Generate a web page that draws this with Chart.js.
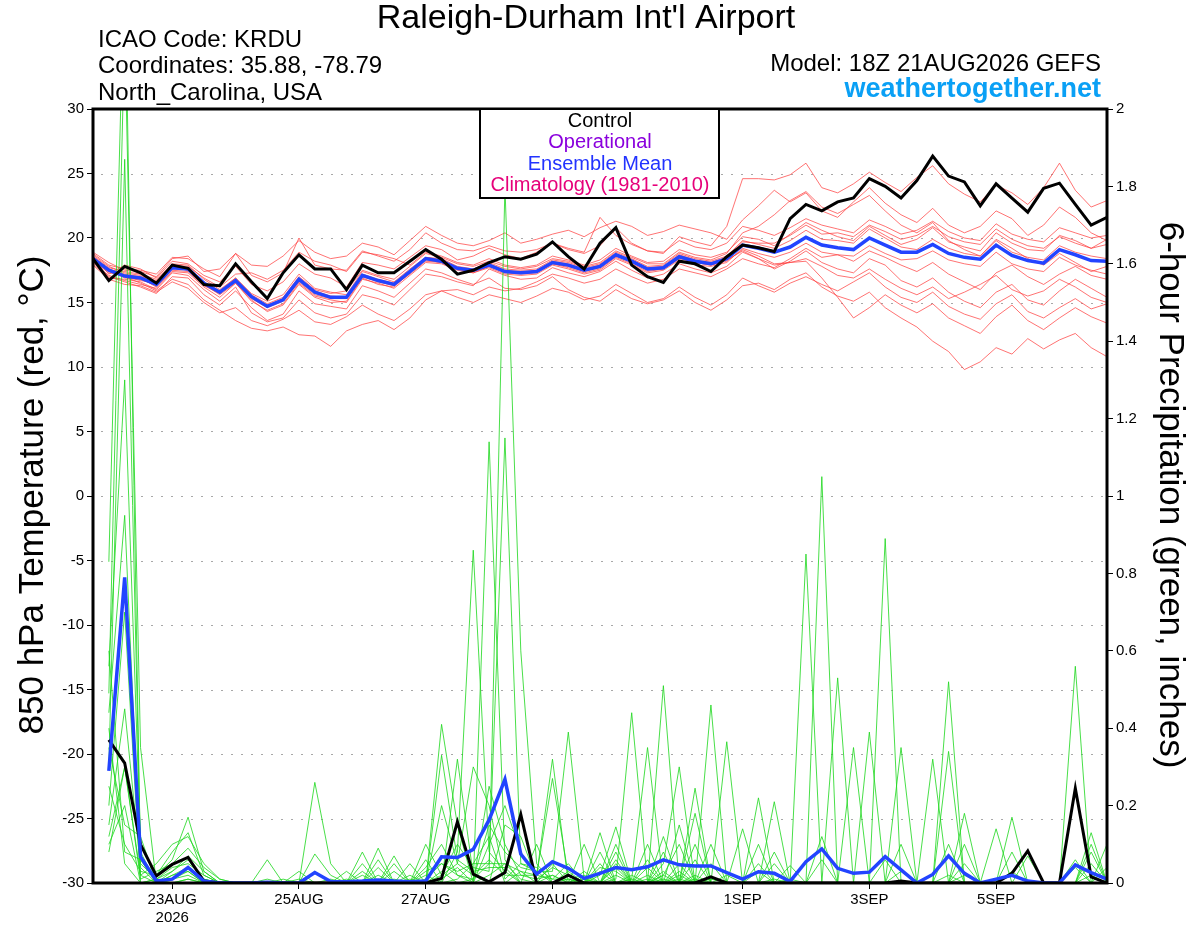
<!DOCTYPE html>
<html>
<head>
<meta charset="utf-8">
<title>Raleigh-Durham Int'l Airport - GEFS meteogram</title>
<script src="https://cdn.jsdelivr.net/npm/chart.js@4.4.1/dist/chart.umd.min.js"></script>
<style>
  html, body { margin: 0; padding: 0; background: #fff; }
  canvas { display: block; }
</style>
</head>
<body>
<canvas id="meteogram" width="1200" height="927"></canvas>
<script>
// forecast steps: 18Z 21AUG2026 + 0..384 h, every 6 h
const stepCount = 65;
const forecastHours = Array.from({ length: stepCount }, (_, i) => i * 6);
const dayTickHours = [30, 78, 126, 174, 246, 294, 342];
const dayTickLabels = ['23AUG', '25AUG', '27AUG', '29AUG', '1SEP', '3SEP', '5SEP'];
const yearLabel = '2026';

// 850 hPa temperature (deg C)
const controlTemp = [18.4,16.7,17.8,17.3,16.5, 17.9,17.65,16.4,16.3,18.0, 16.6,15.3,17.3,18.7,17.6, 17.6,16.0,17.9,17.3,17.3, 18.2,19.1,18.35,17.2,17.5, 18.1,18.55,18.35,18.75,19.7, 18.55,17.6,19.6,20.8,17.9, 17.0,16.55,18.2,18.0,17.4, 18.55,19.45,19.25,18.95,21.5, 22.6,22.1,22.8,23.1,24.6, 24.0,23.1,24.45,26.35,24.8, 24.35,22.5,24.2,23.1,22.0, 23.85,24.25,22.6,21.0,21.6];
const meanTemp = [18.4,17.5,17.05,16.9,16.4, 17.7,17.6,16.5,15.8,16.7, 15.45,14.7,15.2,16.8,15.8, 15.4,15.4,17.1,16.7,16.4, 17.4,18.4,18.2,17.65,17.5, 17.9,17.4,17.3,17.4,18.1, 17.9,17.5,17.8,18.7,18.2, 17.6,17.7,18.55,18.2,18.0, 18.4,19.45,19.2,18.9,19.3, 20.05,19.45,19.25,19.1,20.0, 19.45,18.9,18.9,19.5,18.8, 18.5,18.35,19.45,18.65,18.25, 18.05,19.1,18.7,18.25,18.2];

// 6-hour precipitation (inches), no value at hour 0
const controlPrecip = [null,0.37,0.31,0.10,0.018, 0.048,0.066,0.005,0,0, 0,0,0,0,0, 0,0,0,0,0, 0,0,0.012,0.158,0.023, 0.003,0.027,0.177,0,0, 0.02,0,0,0,0, 0,0,0,0,0.016, 0,0,0,0,0, 0,0,0,0,0, 0,0.005,0,0,0, 0,0,0,0.025,0.083, 0,0,0.245,0.016,0];
const meanPrecip = [null,0.29,0.79,0.068,0.005, 0.01,0.04,0.005,0,0, 0,0.002,0,0,0.027, 0.004,0.003,0.005,0.008,0.005, 0.003,0.005,0.068,0.066,0.087, 0.163,0.268,0.075,0.023,0.055, 0.038,0.012,0.025,0.04,0.034, 0.042,0.06,0.047,0.044,0.044, 0.027,0.01,0.029,0.025,0.004, 0.055,0.088,0.038,0.025,0.028, 0.068,0.034,0,0.022,0.07, 0.025,0,0.01,0.02,0.005, 0,0,0.047,0.027,0.01];

// ensemble members, temperature
const memberTemps = [
  [18.6,17.2,17.9,17.6,16.9, 18.2,18.0,17.1,16.6,17.8, 16.4,15.9,16.6,18.0,17.2, 16.9,16.2,18.1,17.9,17.6, 18.5,19.4,19.1,18.3,18.6, 19.2,18.7,18.4,18.9,19.6, 19.1,18.8,19.4,20.8,19.6, 19.0,18.8,20.1,19.7,19.4, 20.9,24.6,24.6,24.5,24.9, 25.8,23.9,23.5,24.2,25.1, 24.3,23.6,24.7,25.6,24.2, 23.4,22.8,24.1,23.5,22.6, 23.9,25.8,23.7,22.4,22.9],
  [18.2,17.0,16.6,16.2,15.7, 17.0,16.9,15.6,14.8,15.9, 14.6,13.6,14.1,15.9,14.9, 14.7,14.5,16.3,15.9,15.4, 16.5,17.6,17.3,16.8,16.4, 16.9,16.1,16.0,16.3,17.0, 16.0,15.4,15.1,16.0,15.3, 14.9,15.2,15.9,15.0,14.4, 15.2,16.3,16.5,16.0,16.8, 17.3,16.2,15.5,15.1,15.8, 14.6,13.8,13.1,12.0,11.2, 9.8,10.4,11.5,11.0,12.2, 11.4,12.1,12.6,11.5,10.8],
  [18.9,18.1,17.5,17.4,17.0, 18.4,18.6,17.4,17.6,18.8, 17.9,17.8,18.6,19.8,18.9, 18.4,18.6,19.6,19.3,18.7, 19.8,20.9,20.2,19.6,19.4, 19.8,20.4,19.6,19.9,20.3, 20.6,20.1,20.8,21.3,20.9, 20.2,20.5,21.0,20.7,20.4, 19.9,21.4,22.5,23.7,22.8, 23.5,22.1,21.6,22.8,23.9, 22.7,21.8,21.2,22.3,21.0, 20.4,20.9,22.1,21.5,20.2, 21.0,22.4,21.6,20.4,19.8],
  [18.0,16.9,16.8,16.6,16.0, 17.3,17.1,16.0,15.1,16.2, 14.2,13.5,13.8,15.2,14.2, 13.8,14.1,15.6,15.3,14.8, 16.0,17.2,17.0,16.6,16.3, 17.6,17.1,16.8,16.9,17.7, 17.3,17.0,17.4,18.2,17.5, 16.9,17.2,18.0,17.6,17.3, 17.8,18.9,18.4,17.6,18.2, 19.0,18.1,17.6,17.3,18.4, 17.9,16.7,16.2,16.9,15.8, 15.1,14.6,15.8,16.4,15.2, 14.8,15.9,16.8,16.1,15.4],
  [18.3,17.4,17.0,16.5,15.9, 16.8,16.4,15.2,14.4,13.6, 13.0,12.8,13.1,12.5,12.4, 11.6,12.8,13.3,13.6,12.9, 13.8,15.2,15.9,16.0,15.6, 16.2,15.9,16.1,16.6,17.2, 16.9,16.5,16.8,17.6,17.0, 16.5,16.8,17.6,17.3,17.0, 17.6,18.4,18.0,17.7,18.4, 19.2,18.5,18.7,18.2,19.0, 18.5,17.9,17.4,18.1,17.2, 16.6,16.0,17.3,17.9,17.0, 16.4,17.2,17.8,17.1,16.8],
  [18.7,17.8,17.3,17.1,16.6, 17.9,17.8,16.9,16.2,17.2, 17.3,16.8,17.5,18.9,18.2, 17.9,17.4,18.9,18.7,18.4, 17.9,18.9,18.6,18.1,17.9, 18.4,17.9,17.7,17.9,18.6, 18.3,17.9,18.3,19.2,18.6, 18.1,18.2,19.1,18.7,18.5, 18.9,20.1,19.9,19.4,20.3, 21.2,20.6,20.1,19.8,20.9, 20.2,19.5,19.9,20.8,19.7, 19.3,19.0,20.4,19.6,19.1, 19.0,20.2,19.8,19.2,19.5],
  [17.9,16.8,16.4,16.3,15.8, 16.6,16.1,15.0,14.2,14.6, 13.6,13.2,13.7,14.4,13.5, 13.3,13.9,14.8,14.1,13.6, 14.5,15.6,15.9,15.4,15.0, 15.6,15.3,15.0,15.5,16.1, 15.8,15.2,15.5,16.4,15.7, 15.0,15.3,16.2,15.4,14.8, 15.6,16.9,16.3,15.8,16.5, 17.0,16.4,15.9,16.6,17.3, 16.2,15.4,15.0,15.8,14.7, 14.1,13.7,14.9,15.6,14.3, 13.8,14.6,15.3,14.5,14.9],
  [18.5,17.6,17.2,17.0,16.7, 17.8,17.5,16.6,15.9,16.9, 15.7,15.1,15.6,17.2,16.1, 15.8,15.6,17.4,17.0,16.6, 17.6,18.5,18.4,17.8,17.6, 18.1,17.6,17.5,17.6,18.3, 18.1,17.7,18.0,18.9,18.4, 17.8,17.9,18.8,18.4,18.2, 18.6,19.8,19.5,19.2,19.8, 20.6,19.9,19.8,19.6,20.7, 20.0,19.3,19.1,19.9,19.2, 18.8,18.6,19.8,18.9,18.5, 18.3,19.4,18.9,18.6,18.4],
  [18.8,17.9,17.6,17.5,17.2, 18.5,18.4,17.6,17.0,18.8, 17.1,16.6,17.3,20.0,17.9, 17.6,17.5,19.0,18.6,18.2, 19.1,20.4,19.6,19.1,19.0, 19.4,19.0,18.9,19.1,19.6, 19.2,18.9,21.6,20.2,19.5, 19.0,18.9,19.8,19.3,19.1, 19.6,20.9,20.6,20.2,20.8, 21.5,21.0,20.7,20.4,21.4, 20.9,20.3,20.6,21.3,20.5, 20.0,19.8,21.1,20.3,19.9, 19.7,20.8,20.4,20.0,20.2],
  [18.1,17.1,16.7,16.4,16.1, 17.4,17.3,16.2,15.4,16.5, 15.1,14.4,14.9,16.5,15.5, 15.2,15.0,16.8,16.5,16.1, 17.1,18.1,18.0,17.5,17.3, 17.7,17.2,17.1,17.2,17.9, 17.6,17.2,17.5,18.4,17.9, 17.3,17.5,18.3,17.9,17.8, 18.1,19.2,18.8,18.5,18.9, 19.6,18.9,18.7,18.6,19.4, 18.8,18.3,18.4,19.0,18.3, 18.0,17.8,18.9,18.0,17.6, 17.4,18.5,17.9,17.5,17.2],
  [18.4,17.5,16.9,16.8,16.3, 17.6,17.6,16.4,15.6,16.5, 15.2,14.3,14.8,16.4,15.4, 15.0,15.1,16.9,16.4,16.2, 17.3,18.3,18.1,17.6,17.3, 17.8,17.3,17.2,17.3,18.0, 17.7,17.3,17.6,18.5,18.0, 17.4,17.6,18.4,18.1,17.9, 18.2,19.1,18.6,18.0,18.1, 18.4,17.8,17.1,16.9,17.6, 16.8,16.1,15.6,16.2,15.3, 15.8,16.4,17.1,16.0,15.5, 15.9,16.8,16.2,15.4,15.0],
  [18.6,17.7,17.4,17.2,16.8, 18.0,17.9,16.8,16.0,16.9, 15.6,14.9,15.4,17.0,16.0, 15.7,15.9,17.5,17.1,16.8, 17.8,18.8,18.5,18.0,17.8, 18.2,17.8,17.6,17.8,18.4, 18.2,17.8,18.1,19.0,18.5, 18.0,18.0,18.9,18.5,18.3, 18.8,20.4,20.9,21.8,22.9, 23.6,22.4,21.9,22.6,23.3, 22.1,21.0,20.4,21.2,19.8, 19.1,18.6,19.9,19.2,18.4, 17.9,18.8,18.1,17.4,17.8],
  [18.2,17.3,17.1,16.9,16.2, 17.5,17.4,16.3,15.7,16.6, 15.3,14.6,15.1,16.6,15.6, 15.3,15.3,17.0,16.6,16.3, 17.2,18.2,18.1,17.6,17.4, 17.8,17.4,17.3,17.4,18.0, 17.8,17.4,17.7,18.6,18.1, 17.5,17.6,18.5,18.1,17.9, 18.3,19.0,18.4,17.9,18.1, 18.2,16.9,15.4,13.8,14.6, 15.6,14.8,14.2,14.9,13.8, 13.2,12.6,13.9,14.8,13.6, 12.9,13.8,14.6,13.9,13.4],
  [18.5,17.6,17.0,16.7,16.5, 17.7,17.5,16.5,15.7,16.8, 15.4,14.8,15.3,16.9,15.9, 15.5,15.4,17.2,16.8,16.5, 17.5,18.5,18.3,17.7,17.5, 18.0,17.5,17.4,17.5,18.2, 18.0,17.6,17.9,18.8,18.3, 17.7,17.8,18.7,18.3,18.1, 18.5,19.7,19.6,19.6,20.2, 21.0,20.3,20.4,20.1,21.0, 20.5,19.9,20.2,20.9,20.1, 19.7,19.5,20.7,19.9,19.4, 19.2,20.1,19.6,19.2,19.9]
];

// ensemble members, 6-hour precipitation
const memberPrecips = [
  [null,.83,2.4,.05,.01, .03,.06,.01,0,0, 0,0,0,0,0, 0,0,0,0,.01, 0,.04,.1,.02,0, .25,.1,.02,.01,.04, .02,0,.02,.145,0, .1,0,.03,0,.1, 0,0,0,.05,0, 0,0,0,.35,0, 0,0,0,0,.1, 0,0,0,0,0, 0,0,.06,0,0],
  [null,.56,1.3,.1,.02, .06,.17,.03,0,0, 0,.06,0,0,0, 0,0,0,.09,0, 0,.1,.02,.1,.04, .03,1.8,.6,.05,0, .01,0,0,.02,0, 0,.12,0,.1,0, 0,0,.22,0,0, 0,0,0,0,0, .06,0,0,0,0, .05,0,0,0,0, 0,0,0,.13,0],
  [null,.49,2.2,.35,0, .02,.03,0,0,0, 0,0,0,0,.26, .05,0,0,0,0, .01,0,0,.01,.05, .12,0,.03,0,.05, 0,.1,0,.06,0, .02,0,.15,0,0, 0,0,.05,0,0, 0,1.05,0,0,0, 0,0,0,0,0, .18,0,0,0,0, 0,0,0,0,.04],
  [null,.44,.95,.02,.05, .1,.12,.05,.01,0, 0,0,0,0,0, 0,0,.08,0,0, 0,0,.41,.15,0, .02,.05,.01,0,0, 0,0,.08,0,.02, 0,.01,0,.245,0, 0,0,0,.01,0, 0,0,0,0,.39, 0,0,0,0,0, 0,0,0,.08,0, 0,0,0,0,0],
  [null,.3,1.87,.08,0, 0,.01,0,0,0, 0,0,0,0,.03, 0,0,0,0,.05, 0,0,0,0,.01, .15,.08,.04,.03,.03, .39,.01,0,.04,0, 0,.08,0,.01,0, .365,0,0,0,0, 0,0,0,0,0, 0,.1,0,0,0, 0,0,.14,0,0, 0,0,0,.02,0],
  [null,.2,.7,0,.01, .04,.05,.02,0,0, 0,0,.01,0,0, 0,.01,0,.04,0, 0,.02,0,.08,.86, .08,.03,0,0,.02, 0,0,.05,0,.01, .35,0,.02,0,.05, 0,0,0,0,.01, 0,0,0,0,0, 0,0,0,.32,0, 0,0,0,0,.07, 0,0,0,0,0],
  [null,.15,.45,.04,0, .01,.02,0,0,0, 0,0,0,.03,0, 0,0,0,0,.03, 0,0,.33,.06,.03, .04,.04,0,.1,0, 0,0,0,.1,0, 0,.02,.1,0,0, 0,0,0,.21,0, 0,0,0,0,0, .89,0,0,0,0, 0,0,0,0,0, 0,0,.04,0,0],
  [null,.08,.3,.01,.03, .05,.09,.04,.01,0, 0,0,0,0,0, 0,0,.05,0,0, .05,0,.03,0,0, .1,.2,.08,.02,.32, 0,.03,0,0,0, .04,0,0,.06,0, 0,.14,0,0,0, 0,0,0,0,0, 0,.03,0,0,0, 0,0,0,.17,0, 0,0,0,0,0],
  [null,.1,.2,0,0, .02,.04,.01,0,0, 0,0,0,.01,0, 0,0,0,.06,0, 0,.06,0,.32,.02, .06,.02,.02,.02,.01, .05,0,.04,.03,0, 0,.05,.3,0,0, 0,0,.03,0,0, .85,0,0,0,0, 0,0,0,0,.02, 0,0,0,0,0, 0,0,0,.1,0],
  [null,.35,.15,.12,0, 0,0,0,0,0, 0,0,0,0,.075, .02,0,0,0,0, 0,0,.01,.04,0, 1.14,.06,0,0,0, .03,0,0,.08,0, .01,0,.01,0,.46, 0,0,0,0,0, 0,.12,0,0,0, 0,0,0,0,0, .1,0,0,0,0, 0,0,0,0,.1],
  [null,.25,.1,.03,.02, .08,.13,.02,0,0, 0,0,0,0,0, 0,.03,0,0,.07, 0,0,.2,.05,.02, 0,.15,.12,.01,.02, 0,.01,0,.01,.44, 0,.03,0,.02,0, 0,0,.1,0,0, 0,0,.53,0,0, 0,0,0,0,0, .02,0,0,0,0, 0,0,.56,0,0],
  [null,.6,.08,.06,0, .01,.03,0,0,0, 0,0,0,0,0, .01,0,.02,0,0, .02,0,.02,.05,.3, .2,.01,.05,.04,.01, .01,0,.13,0,0, .06,0,.05,0,0, .02,0,0,0,.045, 0,0,0,0,0, 0,0,0,0,.34, 0,0,0,0,0, 0,0,0,.08,0],
  [null,.4,.05,0,.01, 0,.01,0,0,0, 0,.01,0,0,0, 0,0,0,.02,0, 0,.01,.05,.03,.05, .05,1.15,.05,.03,0, 0,.02,0,.05,0, 0,.02,0,.18,0, 0,0,0,.08,0, 0,0,0,0,0, 0,.35,0,0,0, 0,0,0,.03,0, 0,0,0,0,0],
  [null,.12,.3,.02,0, .03,.07,.03,0,0, 0,0,0,0,0, 0,0,.03,0,0, 0,.03,.05,.02,.01, .05,.05,.03,.02,.27, .02,0,.03,0,.01, 0,.51,0,0,.01, 0,0,0,0,0, 0,.06,0,0,0, 0,0,0,0,.52, 0,0,0,0,0, 0,0,0,.05,0]
];

const FONT = '"Liberation Sans", Arial, Helvetica, sans-serif';
Chart.defaults.font.family = FONT;
Chart.defaults.color = '#000';

function toPoints(values) {
    return values.map((v, i) => ({ x: forecastHours[i], y: v }));
}

const datasets = [];
memberTemps.forEach(m => datasets.push({
    data: toPoints(m), yAxisID: 'y', borderColor: 'rgba(255,60,60,0.8)',
    borderWidth: 0.9, pointRadius: 0, order: 6
}));
memberPrecips.forEach(m => datasets.push({
    data: toPoints(m), yAxisID: 'yPrecip', borderColor: 'rgba(30,215,30,0.9)',
    borderWidth: 0.9, pointRadius: 0, order: 5
}));
datasets.push({ data: toPoints(controlPrecip), yAxisID: 'yPrecip', borderColor: '#000', borderWidth: 3, pointRadius: 0, order: 4 });
datasets.push({ data: toPoints(meanPrecip), yAxisID: 'yPrecip', borderColor: '#2244ff', borderWidth: 3.5, pointRadius: 0, order: 3 });
datasets.push({ data: toPoints(meanTemp), yAxisID: 'y', borderColor: '#2244ff', borderWidth: 3.5, pointRadius: 0, order: 2 });
datasets.push({ data: toPoints(controlTemp), yAxisID: 'y', borderColor: '#000', borderWidth: 3, pointRadius: 0, order: 1 });

// dotted temperature grid, frame, legend box and all the header text
const decorations = {
    id: 'decorations',
    beforeDatasetsDraw(chart) {
        const { ctx, chartArea: a, scales } = chart;
        ctx.save();
        ctx.strokeStyle = '#a8a8a8';
        ctx.lineWidth = 1;
        ctx.setLineDash([2, 8]);
        for (let v = -25; v <= 25; v += 5) {
            const y = Math.round(scales.y.getPixelForValue(v)) + 0.5;
            ctx.beginPath();
            ctx.moveTo(a.left + 8, y);
            ctx.lineTo(a.right, y);
            ctx.stroke();
        }
        ctx.restore();
    },
    afterDraw(chart) {
        const { ctx, chartArea: a } = chart;
        ctx.save();
        ctx.strokeStyle = '#000';
        ctx.lineWidth = 3;
        ctx.strokeRect(a.left, a.top, a.right - a.left, a.bottom - a.top);

        // legend
        ctx.fillStyle = '#fff';
        ctx.fillRect(480, a.top, 239, 89);
        ctx.lineWidth = 2;
        ctx.strokeRect(480, a.top, 239, 89);
        ctx.textAlign = 'center';
        ctx.textBaseline = 'middle';
        ctx.font = '20px ' + FONT;
        const legendRows = [['Control', '#000'], ['Operational', '#8a00dd'], ['Ensemble Mean', '#2233ff'], ['Climatology (1981-2010)', '#e6007a']];
        legendRows.forEach((r, i) => {
            ctx.fillStyle = r[1];
            ctx.fillText(r[0], 600, 121 + i * 21.5);
        });

        // header
        ctx.fillStyle = '#000';
        ctx.font = '34px ' + FONT;
        ctx.fillText("Raleigh-Durham Int'l Airport", 586, 19);
        ctx.textAlign = 'left';
        ctx.font = '24px ' + FONT;
        ctx.fillText('ICAO Code: KRDU', 98, 40);
        ctx.fillText('Coordinates: 35.88, -78.79', 98, 66);
        ctx.fillText('North_Carolina, USA', 98, 93);
        ctx.textAlign = 'right';
        ctx.fillText('Model: 18Z 21AUG2026 GEFS', 1101, 64);
        ctx.fillStyle = '#0aa0f5';
        ctx.font = 'bold 27px ' + FONT;
        ctx.fillText('weathertogether.net', 1101, 90);

        // axis titles
        ctx.fillStyle = '#000';
        ctx.font = '35px ' + FONT;
        ctx.textAlign = 'center';
        ctx.save();
        ctx.translate(33, 495);
        ctx.rotate(-Math.PI / 2);
        ctx.fillText('850 hPa Temperature (red, \u00B0C)', 0, 0);
        ctx.restore();
        ctx.save();
        ctx.translate(1170, 495);
        ctx.rotate(Math.PI / 2);
        ctx.fillText('6-hour Precipitation (green, inches)', 0, 0);
        ctx.restore();
        ctx.restore();
    }
};

const tickGrid = { drawOnChartArea: false, drawTicks: true, tickLength: 6, tickColor: '#000', tickWidth: 1 };

new Chart(document.getElementById('meteogram'), {
    type: 'line',
    data: { datasets },
    options: {
        responsive: false,
        animation: false,
        events: [],
        layout: { padding: { top: 109, left: 0, right: 0, bottom: 0 } },
        elements: { line: { tension: 0 } },
        plugins: { legend: { display: false }, tooltip: { enabled: false } },
        scales: {
            x: {
                type: 'linear', min: 0, max: 384, position: 'bottom',
                afterBuildTicks: s => { s.ticks = dayTickHours.map(v => ({ value: v })); },
                afterFit: s => { s.height = 44; },
                ticks: {
                    autoSkip: false, maxRotation: 0, padding: 2, font: { size: 15 },
                    callback: v => {
                        const i = dayTickHours.indexOf(v);
                        return i === 0 ? [dayTickLabels[i], yearLabel] : dayTickLabels[i];
                    }
                },
                grid: tickGrid,
                border: { display: false }
            },
            y: {
                position: 'left', min: -30, max: 30,
                afterFit: s => { s.width = 93; },
                ticks: { stepSize: 5, padding: 3, font: { size: 15 }, callback: v => String(v) },
                grid: tickGrid,
                border: { display: false }
            },
            yPrecip: {
                position: 'right', min: 0, max: 2,
                afterFit: s => { s.width = 93; },
                ticks: { stepSize: 0.2, padding: 3, font: { size: 15 }, callback: v => String(Math.round(v * 10) / 10) },
                grid: tickGrid,
                border: { display: false }
            }
        }
    },
    plugins: [decorations]
});
</script>
</body>
</html>
